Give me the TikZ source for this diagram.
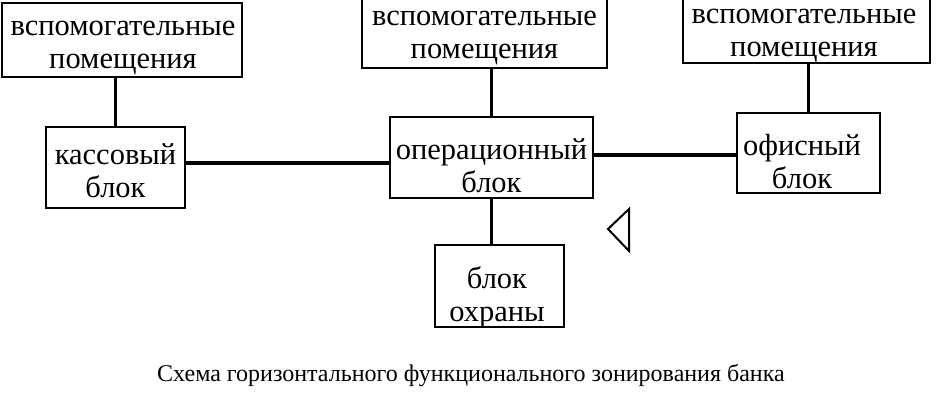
\documentclass[tikz,border=0pt]{standalone}
\usepackage{fontspec}
\setmainfont{Liberation Serif}
\begin{document}
\begin{tikzpicture}[x=1pt,y=-1pt,
  blk/.style={draw, line width=2.5pt, inner sep=0pt},
  txt/.style={align=center, inner sep=0pt, font=\fontsize{30.5}{33}\selectfont},
  conn/.style={line width=3.8pt}]
\useasboundingbox (0,0) rectangle (944,408);
\clip (0,0) rectangle (944,408);
% boxes
\node[blk, minimum width=240pt, minimum height=74pt] (v1) at (122,40) {};
\node[blk, minimum width=245pt, minimum height=71pt] (v2) at (484.5,32.5) {};
\node[blk, minimum width=247pt, minimum height=66pt] (v3) at (806.5,30) {};
\node[blk, minimum width=139pt, minimum height=81pt] (kass) at (115.5,167.5) {};
\node[blk, minimum width=203pt, minimum height=81pt] (oper) at (491.5,157.5) {};
\node[blk, minimum width=143pt, minimum height=80pt] (ofis) at (808.5,153) {};
\node[blk, minimum width=129pt, minimum height=82pt] (ohr) at (499.5,286) {};
% texts
\node[txt] (v1t) at (123,48) {вспомогательные\\помещения};
\node[txt] (v2t) at (484.5,38) {вспомогательные\\помещения};
\node[txt] (v3t) at (804,35.5) {вспомогательные\\помещения};
\node[txt] (kasst) at (115.5,171) {кассовый\\блок};
\node[txt] (opert) at (491.5,166) {операционный\\блок};
\node[txt] (ofist) at (802,161.5) {офисный\\блок};
\node[txt] (ohrt) at (497,297) {блок\\охраны};
% connectors
\coordinate (m1) at (0,163);
\coordinate (m2) at (0,155);
\draw[conn] (kass.north) -- (kass.north |- v1.south);
\draw[conn] (oper.north) -- (oper.north |- v2.south);
\draw[conn] (ofis.north) -- (ofis.north |- v3.south);
\draw[conn] (oper.south) -- (oper.south |- ohr.north);
\draw[conn] (kass.east |- m1) -- (oper.west |- m1);
\draw[conn] (oper.east |- m2) -- (ofis.west |- m2);
% marker
\draw[line width=2pt, line join=miter] (608,229) -- (629,209) -- (629,251) -- cycle;
\node[font=\fontsize{24}{28}\selectfont] (cap) at (471,375) {Схема горизонтального функционального зонирования банка};
\end{tikzpicture}
\end{document}
